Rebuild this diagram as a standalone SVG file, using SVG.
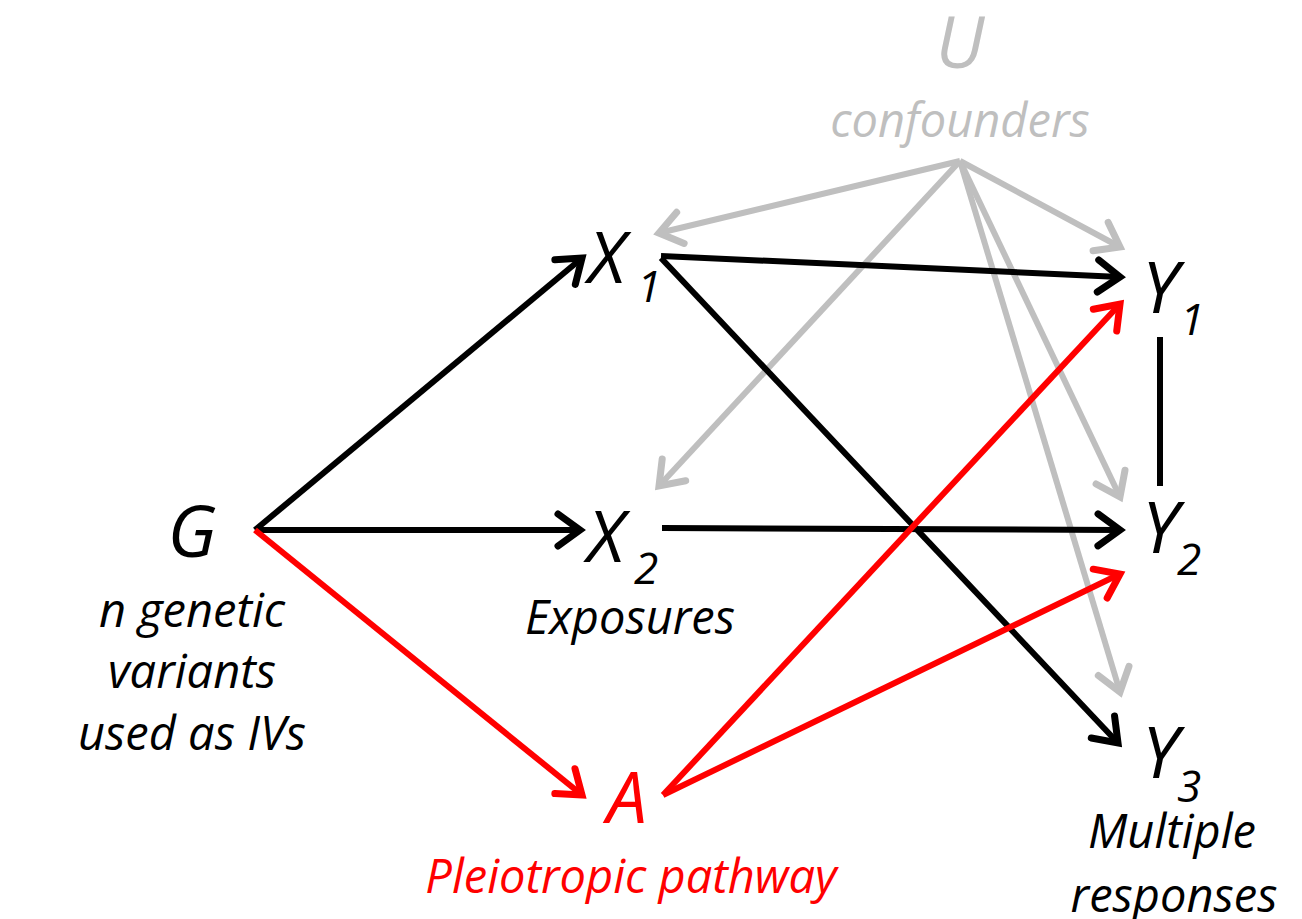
<svg xmlns="http://www.w3.org/2000/svg" width="1302" height="919" viewBox="0 0 1302 919">
<style>
text{font-family:"Open Sans","Noto Sans","Liberation Sans",sans-serif;font-style:italic}
.big{font-size:72px}
.sub{font-size:44px}
.lbl{font-size:47px;text-anchor:middle}
.k{fill:#000}
.r{fill:#ff0000}
.g{fill:#bfbfbf}
.ck{stroke:#000;stroke-width:6;fill:none}
.cr{stroke:#ff0000;stroke-width:6;fill:none}
.cg{stroke:#bfbfbf;stroke-width:6;fill:none}
</style>
<defs>
<marker id="mk" markerUnits="userSpaceOnUse" viewBox="-30 -20 40 40" markerWidth="40" markerHeight="40" refX="0" refY="0" orient="auto" overflow="visible">
<path d="M-22,-16 L0,0 L-22,16" fill="none" stroke="#000" stroke-width="7" stroke-linecap="round"/>
</marker>
<marker id="mr" markerUnits="userSpaceOnUse" viewBox="-30 -20 40 40" markerWidth="40" markerHeight="40" refX="0" refY="0" orient="auto" overflow="visible">
<path d="M-22,-16 L0,0 L-22,16" fill="none" stroke="#ff0000" stroke-width="7" stroke-linecap="round"/>
</marker>
<marker id="mg" markerUnits="userSpaceOnUse" viewBox="-30 -20 40 40" markerWidth="40" markerHeight="40" refX="0" refY="0" orient="auto" overflow="visible">
<path d="M-22,-16 L0,0 L-22,16" fill="none" stroke="#bfbfbf" stroke-width="7" stroke-linecap="round"/>
</marker>
</defs>
<g id="connectors">
<line class="cg" x1="960" y1="161" x2="659" y2="233" marker-end="url(#mg)"/>
<line class="cg" x1="960" y1="161" x2="659" y2="486" marker-end="url(#mg)"/>
<line class="cg" x1="960" y1="161" x2="1120" y2="247" marker-end="url(#mg)"/>
<line class="cg" x1="960" y1="161" x2="1120" y2="497" marker-end="url(#mg)"/>
<line class="cg" x1="960" y1="161" x2="1120" y2="692" marker-end="url(#mg)"/>
<line class="ck" x1="255" y1="530" x2="582" y2="258" marker-end="url(#mk)"/>
<line class="ck" x1="255" y1="530" x2="580" y2="530" marker-end="url(#mk)"/>
<line class="cr" x1="255" y1="530" x2="582" y2="795" marker-end="url(#mr)"/>
<line class="ck" x1="661" y1="256" x2="1120" y2="277" marker-end="url(#mk)"/>
<line class="ck" x1="661" y1="258" x2="1118" y2="743" marker-end="url(#mk)"/>
<line class="ck" x1="662" y1="528" x2="1120" y2="530" marker-end="url(#mk)"/>
<line class="ck" x1="1160" y1="337" x2="1160" y2="486"/>
<line class="cr" x1="663" y1="795" x2="1120" y2="304" marker-end="url(#mr)"/>
<line class="cr" x1="663" y1="795" x2="1120" y2="574" marker-end="url(#mr)"/>
</g>
<g id="U">
<text class="big g" x="960" y="68" text-anchor="middle">U</text>
<text class="lbl g" x="960" y="137">confounders</text>
</g>
<g id="G">
<text class="big k" x="192" y="557" text-anchor="middle">G</text>
<text class="lbl k" x="192" y="627">n genetic</text>
<text class="lbl k" x="192" y="688">variants</text>
<text class="lbl k" x="192" y="750">used as IVs</text>
</g>
<g id="X1">
<text class="big k" x="588" y="283">X</text>
<text class="sub k" x="637" y="302">1</text>
</g>
<g id="X2">
<text class="big k" x="587" y="562">X</text>
<text class="sub k" x="634" y="584">2</text>
<text class="lbl k" x="630" y="634">Exposures</text>
</g>
<g id="A">
<text class="big r" x="627" y="823" text-anchor="middle">A</text>
<text class="lbl r" x="631" y="893">Pleiotropic pathway</text>
</g>
<g id="Y1">
<text class="big k" x="1142" y="313">Y</text>
<text class="sub k" x="1180" y="335">1</text>
</g>
<g id="Y2">
<text class="big k" x="1142" y="553">Y</text>
<text class="sub k" x="1177" y="575">2</text>
</g>
<g id="Y3">
<text class="big k" x="1142" y="778">Y</text>
<text class="sub k" x="1177" y="802">3</text>
<text class="lbl k" x="1172" y="848">Multiple</text>
<text class="lbl k" x="1174" y="912">responses</text>
</g>
</svg>
